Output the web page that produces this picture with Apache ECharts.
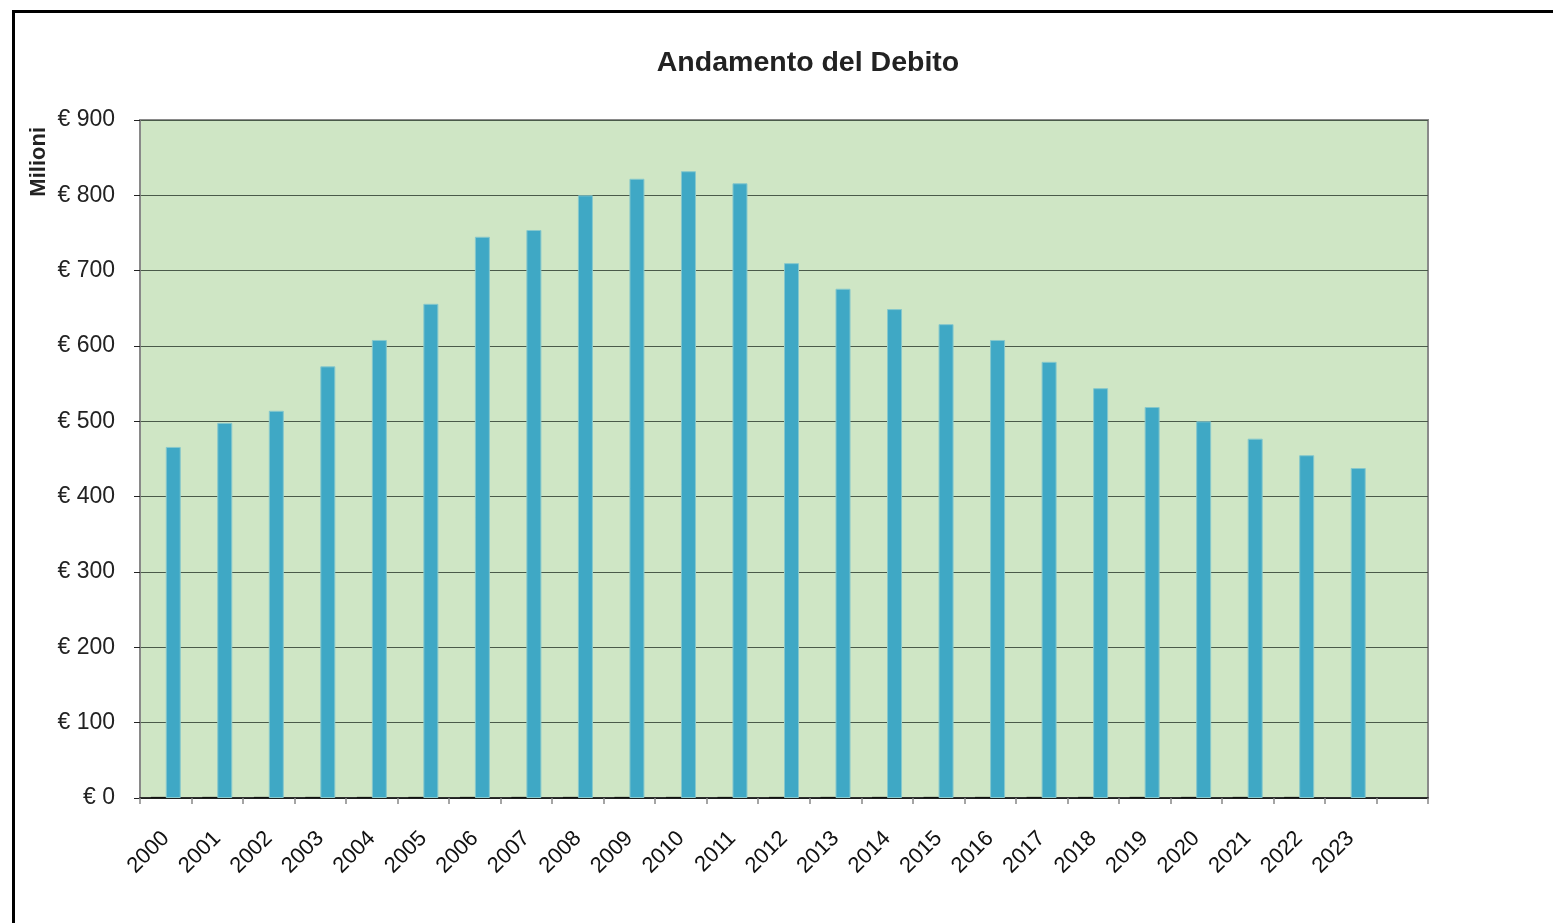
<!DOCTYPE html>
<html>
<head>
<meta charset="utf-8">
<script src="https://cdn.jsdelivr.net/npm/echarts@6/dist/echarts.min.js"></script>
<style>
  html, body { margin: 0; padding: 0; background: #fff; overflow: hidden; }
  #frame { position: absolute; left: 12px; top: 10px; width: 1600px; height: 1000px; border: 3px solid #000; box-sizing: border-box; }
  #chart { position: absolute; left: 0; top: 0; width: 1553px; height: 923px; }
</style>
</head>
<body>
<div id="frame"></div>
<div id="chart"></div>
<script>
// anni (ultimo slot vuoto come nell'originale)
const years = ['2000','2001','2002','2003','2004','2005','2006','2007','2008','2009','2010','2011',
  '2012','2013','2014','2015','2016','2017','2018','2019','2020','2021','2022','2023',''];
// serie quasi nulla (segni neri alla base)
const minorValues = [1.5,1.5,1.5,1.5,1.5,1.5,1.5,1.5,1.5,1.5,1.5,1.5,1.5,1.5,1.5,1.5,1.5,1.5,1.5,1.5,1.5,1.5,1.5,'-','-'];
// debito in milioni di euro
const debtValues = [466,498,514,573,608,656,745,754,800,822,832,816,710,676,649,629,608,579,544,519,500,477,455,438,'-'];
const yTicks = [0,100,200,300,400,500,600,700,800,900];

const chart = echarts.init(document.getElementById('chart'));
const font = '"Liberation Sans", Arial, sans-serif';

let option = {
  animation: false,
  title: {
    text: 'Andamento del Debito',
    left: 803,
    textAlign: 'center',
    top: 44,
    textStyle: { fontFamily: font, fontSize: 28.5, fontWeight: 'bold', color: '#222' }
  },
  graphic: [{
    type: 'text',
    left: 28,
    top: 127,
    rotation: Math.PI / 2,
    style: { text: 'Milioni', fontFamily: font, fontSize: 22, fontWeight: 'bold', fill: '#222' }
  }],
  grid: {
    left: 140, right: 125, top: 120, bottom: 125,
    show: true,
    backgroundColor: '#cfe6c5',
    borderColor: '#8a8a8a',
    borderWidth: 2
  },
  xAxis: {
    type: 'category',
    data: years,
    boundaryGap: true,
    axisLine: { lineStyle: { color: '#111', width: 1.5 } },
    axisTick: { show: true, interval: 0, length: 6, lineStyle: { color: '#888', width: 1.5 } },
    axisLabel: { interval: 0, rotate: 45, margin: 37, fontFamily: font, fontSize: 22, color: '#111' },
    splitLine: { show: false }
  },
  yAxis: {
    type: 'value',
    min: yTicks[0],
    max: yTicks[yTicks.length - 1],
    interval: 100,
    axisLine: { show: true, lineStyle: { color: '#888', width: 1.5 } },
    axisTick: { show: true, length: 6, lineStyle: { color: '#222' } },
    axisLabel: { margin: 25, fontFamily: font, fontSize: 23, color: '#222', formatter: v => '€ ' + v },
    splitLine: { lineStyle: { color: '#4a5a4a', width: 1 } }
  },
  series: [
    {
      name: 'minore',
      type: 'bar',
      data: minorValues,
      barWidth: 15,
      barGap: '0%',
      itemStyle: { color: '#111' }
    },
    {
      name: 'Debito',
      type: 'bar',
      data: debtValues,
      barWidth: 15,
      barGap: '0%',
      itemStyle: { color: '#3fa8c5', borderColor: '#86c8cc', borderWidth: 1 }
    }
  ]
};
chart.setOption(option);
</script>
</body>
</html>
